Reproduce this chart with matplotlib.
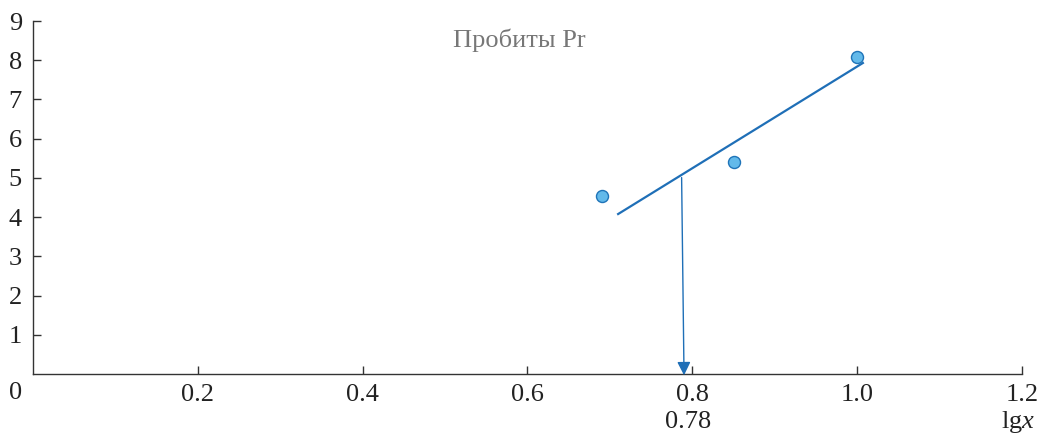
import numpy as np
import matplotlib
matplotlib.use('Agg')
from matplotlib import pyplot as plt

plt.rcParams['font.family'] = ['Liberation Serif', 'DejaVu Serif']
plt.rcParams['mathtext.fontset'] = 'custom'
plt.rcParams['mathtext.it'] = 'Liberation Serif:italic'
plt.rcParams['mathtext.rm'] = 'Liberation Serif'

# probit points
lgx = [0.69, 0.85, 1.0]
probit = [4.55, 5.41, 8.08]
# fitted line ends
line_x = [0.71, 1.007]
line_y = [4.08, 7.93]
# drop line to lg x = 0.78
drop_x = [0.787, 0.79]
drop_y = [5.08, -0.1]
drop_label = '0.78'

xticks = [0.2, 0.4, 0.6, 0.8, 1.0, 1.2]
xticklabels = ['0.2', '0.4', '0.6', '0.8', '1.0', '1.2']
yticks = [1, 2, 3, 4, 5, 6, 7, 8, 9]

lineColor = '#1f6fb7'
fontSize = 19

fig = plt.figure(figsize=(10.41, 4.34), dpi=100)
ax = fig.add_axes([0.0317, 0.138, 0.95, 0.8136])

ax.plot(line_x, line_y, color=lineColor, lw=1.6)
ax.scatter(lgx, probit, s=75, facecolor='#62b9ea', edgecolor='#1f74b8', lw=1, zorder=3)
ax.annotate('', xy=(drop_x[1], drop_y[1]), xytext=(drop_x[0], drop_y[0]),
            arrowprops=dict(arrowstyle='-|>', color=lineColor, lw=1.0, mutation_scale=20),
            annotation_clip=False)

ax.set_xlim(0, 1.2)
ax.set_ylim(0, 9)
ax.spines['top'].set_visible(False)
ax.spines['right'].set_visible(False)
for s in ['left', 'bottom']:
    ax.spines[s].set_color('#333333')
    ax.spines[s].set_linewidth(1.0)

ax.set_xticks(xticks)
ax.set_xticklabels(xticklabels)
ax.set_yticks(yticks)
ax.tick_params(direction='in', length=6, width=1, color='#333333', labelsize=fontSize, colors='#222222')
ax.tick_params(axis='x', pad=7)
ax.tick_params(axis='y', pad=8)

ax.text(-0.013, -0.47, '0', ha='right', va='center', fontsize=fontSize, color='#222222')
ax.text(drop_x[1] + 0.005, -1.22, drop_label, ha='center', va='center', fontsize=fontSize, color='#222222')
ax.text(1.195, -1.22, r'lg$\mathit{x}$', ha='center', va='center', fontsize=fontSize, color='#222222')
ax.text(0.59, 8.5, 'Пробиты Pr', ha='center', va='center', fontsize=fontSize, color='#777777')

plt.savefig('out.png', dpi=100)
